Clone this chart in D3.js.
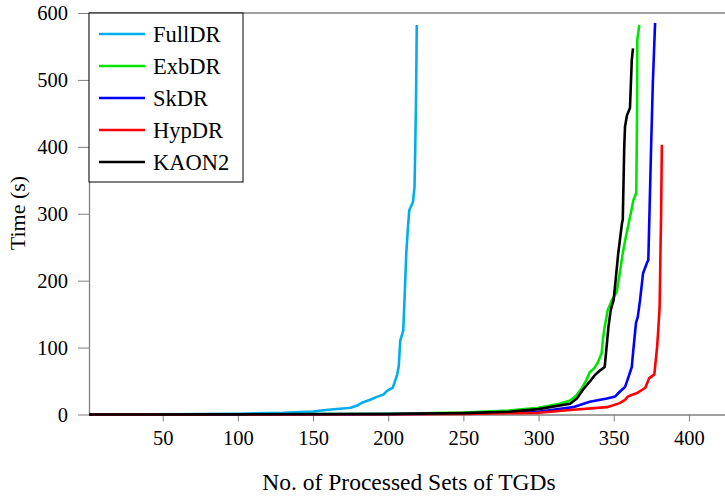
<!DOCTYPE html>
<html><head><meta charset="utf-8">
<script src="https://cdn.jsdelivr.net/npm/d3@7"></script>
<style>body{margin:0;background:#fff}svg{display:block}text{font-family:"Liberation Serif",serif}</style>
</head><body><svg id="c" width="725" height="499"></svg>
<script>
const seriesNames = ["FullDR","ExbDR","SkDR","HypDR","KAON2"];
const seriesColors = ["#00AEEF","#00E600","#0000FF","#FF0000","#000000"];
const xTicks = [50,100,150,200,250,300,350,400];
const yTicks = [0,100,200,300,400,500,600];

const fullDR = [[1,0],[50,0.3],[100,1.2],[130,2.5],[150,4.5],[160,7],[170,9],[175,10],[179,13],[183,18],[188,22],[192,26],[197,30],[199,35],[203,40],[204,46],[206,60],[207,72],[208,110],[209,118],[210,125],[211,180],[212,240],[213,275],[214,305],[215,310],[216.5,318],[217.5,340],[218,400],[218.5,470],[219,582]];
const exbDR = [[1,0],[100,0.3],[200,1],[250,3],[280,6],[300,10],[314,16],[321,21],[325,28],[329,40],[332,52],[334,63],[337,69],[339.5,78],[342,92],[343,116],[344,131],[346,156],[349,172],[352,183],[354,211],[356,241],[358,265],[360,286],[362,308],[363,320],[365,331],[365.5,450],[365.7,560],[367,582]];
const skDR = [[1,0],[100,0.2],[200,0.6],[250,1.5],[280,3],[300,4],[323,11],[334,19],[345.5,24],[351,27],[354,34],[357.5,41],[359.5,54],[362,71],[363,96],[364.8,137],[366,146],[367.5,171],[369.5,211],[372,226],[373,231],[374.8,395],[376,495],[377.5,585]];
const hypDR = [[1,0],[100,0.1],[200,0.4],[250,1],[280,2],[300,2.5],[323,7],[345.5,11],[354,17],[357.5,22],[359.5,27],[365.5,32],[369,37],[371,40],[373.5,54],[377,60],[378.8,100],[379.5,122],[380.5,160],[381.5,300],[382,403]];
const kaon2 = [[1,0],[100,0.2],[200,0.8],[250,2],[280,4],[300,8],[321,16],[325.5,24],[329.5,37],[334,49],[337.5,59],[341,66],[344,71],[345.5,107],[346.5,131],[348,156],[350,172],[353,241],[355.5,286],[356,291],[357,400],[357.5,430],[358.8,447],[360.8,458],[362,530],[362.8,547]];
const allSeries = [fullDR, exbDR, skDR, hypDR, kaon2];

const svg = d3.select("#c");
const L = 89, R = 725, T = 13, B = 414.5;
const x = d3.scaleLinear().domain([1, 424]).range([L, R]);
const y = d3.scaleLinear().domain([0, 600]).range([B, T]);
const grey = "#808080";

svg.append("defs").append("clipPath").attr("id","clip")
  .append("rect").attr("x",L).attr("y",T-2).attr("width",R-L+2).attr("height",B-T+4);

const xa = svg.append("g").attr("transform",`translate(0,${B})`)
  .call(d3.axisBottom(x).tickValues(xTicks).tickSize(7).tickPadding(9).tickSizeOuter(0));
const ya = svg.append("g").attr("transform",`translate(${L},0)`)
  .call(d3.axisLeft(y).tickValues(yTicks).tickSize(11).tickPadding(10).tickSizeOuter(0));
[xa,ya].forEach(g=>{
  g.select(".domain").attr("stroke",grey).attr("stroke-width",1.3);
  g.selectAll(".tick line").attr("stroke",grey).attr("stroke-width",1);
  g.selectAll(".tick text").attr("fill","#000").style("font-size","20.5px").style("font-family","'Liberation Serif',serif");
});
svg.append("line").attr("x1",L).attr("x2",R).attr("y1",T).attr("y2",T).attr("stroke",grey).attr("stroke-width",1.3);

const line = d3.line().x(d=>x(d[0])).y(d=>y(d[1]));
svg.append("g").attr("clip-path","url(#clip)").selectAll("path").data(allSeries).join("path")
  .attr("d", line).attr("fill","none")
  .attr("stroke",(d,i)=>seriesColors[i]).attr("stroke-width",2.6)
  .attr("stroke-linejoin","round");

svg.append("text").attr("x",409).attr("y",490).attr("text-anchor","middle")
  .style("font-size","23.5px").text("No. of Processed Sets of TGDs");
svg.append("text").attr("transform","translate(25,213) rotate(-90)").attr("text-anchor","middle")
  .style("font-size","22px").text("Time (s)");

const lg = svg.append("g");
lg.append("rect").attr("x",L).attr("y",T).attr("width",154).attr("height",169)
  .attr("fill","#fff").attr("stroke","#000").attr("stroke-width",1);
seriesNames.forEach((n,i)=>{
  const yy = 34 + i*32;
  lg.append("line").attr("x1",99).attr("x2",145).attr("y1",yy).attr("y2",yy)
    .attr("stroke",seriesColors[i]).attr("stroke-width",2.6);
  lg.append("text").attr("x",153).attr("y",yy).attr("dy","0.35em")
    .style("font-size","22.5px").text(n);
});
</script></body></html>
